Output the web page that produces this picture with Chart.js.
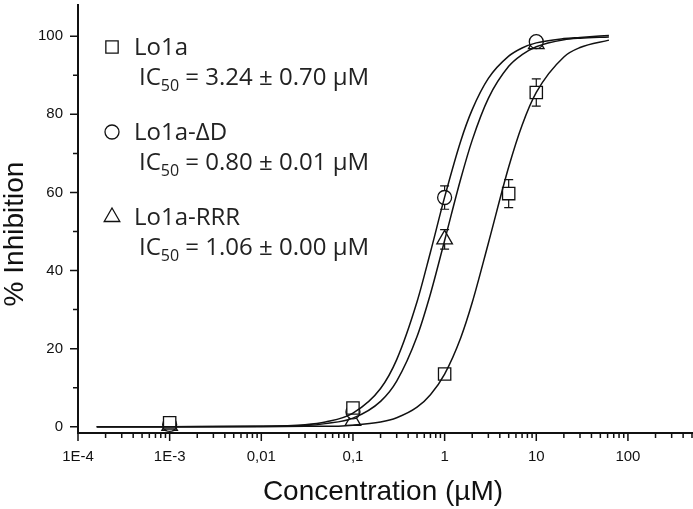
<!DOCTYPE html>
<html>
<head>
<meta charset="utf-8">
<script src="https://cdn.jsdelivr.net/npm/chart.js@4.4.0/dist/chart.umd.min.js"></script>
<style>
  html, body { margin: 0; padding: 0; background: #fff; }
  #wrap { width: 693px; height: 509px; position: relative; }
</style>
</head>
<body>
<div id="wrap"><canvas id="chart"></canvas></div>
<script>
// measured points: concentration (µM) and % inhibition
const lo1aConc = [0.001, 0.1, 1, 5, 10];
const lo1aValues = [1.0, 4.8, 13.5, 59.7, 85.6];
const lo1aErrors = [1.0, 1.0, 0.6, 3.6, 3.5];

const deltaDConc = [0.001, 0.1, 1, 10];
const deltaDValues = [0.6, 3.8, 58.7, 98.6];
const deltaDErrors = [0.8, 1.0, 3.0, 1.0];

const rrrConc = [0.001, 0.1, 1, 10];
const rrrValues = [0.2, 1.5, 48.0, 98.0];
const rrrErrors = [1.2, 1.0, 2.5, 1.0];

// fitted curves
const curveConc = [1.6e-4, 0.001, 0.01, 0.03, 0.05, 0.1, 0.2, 0.3, 0.5, 0.7, 1, 1.5, 2, 3, 5, 7, 10, 20, 30, 62];
const lo1aFit = [0, 0, 0, 0.1, 0.1, 0.4, 1.2, 2.3, 5.0, 8.2, 13.5, 22.8, 31.8, 47.0, 66.5, 77.2, 85.6, 94.7, 97.1, 99.0];
const deltaDFit = [0, 0, 0.1, 0.5, 1.2, 3.5, 9.8, 17.2, 32.0, 44.7, 58.8, 73.2, 81.2, 89.2, 94.9, 97.0, 98.3, 99.4, 99.7, 100.2];
const rrrFit = [0, 0, 0.1, 0.3, 0.8, 2.2, 6.5, 11.7, 23.1, 34.0, 47.7, 63.5, 73.4, 84.1, 92.3, 95.3, 97.3, 99.1, 99.5, 99.8];

const xTickValues = [1e-4, 1e-3, 0.01, 0.1, 1, 10, 100];
const xTickLabels = ['1E-4', '1E-3', '0,01', '0,1', '1', '10', '100'];
const yTickValues = [0, 20, 40, 60, 80, 100];

const legendNames = ['Lo1a', 'Lo1a-\u0394D', 'Lo1a-RRR'];
const legendIC50 = ['3.24 \u00b1 0.70 \u00b5M', '0.80 \u00b1 0.01 \u00b5M', '1.06 \u00b1 0.00 \u00b5M'];

const AXIS_FONT = "'Liberation Sans', Arial, sans-serif";
const LEGEND_FONT = "'Open Sans', sans-serif";
const INK = '#111';

function toPoints(xs, ys) {
    return xs.map((x, i) => ({ x: x, y: ys[i] }));
}

function isMajorX(v) {
    return xTickValues.some(t => Math.abs(Math.log10(t) - Math.log10(v)) < 1e-6);
}

// every tick on the log axis: decades plus 2..9 minors
const xAllTicks = [];
xTickValues.forEach(d => {
    for (let k = 1; k <= 9; k++) {
        if (k * d <= 500) xAllTicks.push(k * d);
    }
});
const yAllTicks = [];
for (let v = 0; v <= 100; v += 10) yAllTicks.push(v);

const curveStyle = {
    showLine: true,
    pointRadius: 0,
    borderColor: INK,
    borderWidth: 1.5,
    cubicInterpolationMode: 'monotone',
    fill: false
};
const markerStyle = {
    showLine: false,
    backgroundColor: '#fff',
    borderColor: INK,
    borderWidth: 1.3
};

const errorBars = {
    id: 'errorBars',
    beforeDatasetsDraw(chart) {
        const { ctx, scales: { x, y } } = chart;
        ctx.save();
        ctx.strokeStyle = INK;
        ctx.lineWidth = 1.2;
        chart.data.datasets.forEach(ds => {
            if (!ds.errors) return;
            ds.data.forEach((p, i) => {
                const px = x.getPixelForValue(p.x);
                const top = y.getPixelForValue(p.y + ds.errors[i]);
                const bot = y.getPixelForValue(p.y - ds.errors[i]);
                ctx.beginPath();
                ctx.moveTo(px, top); ctx.lineTo(px, bot);
                ctx.moveTo(px - 4.5, top); ctx.lineTo(px + 4.5, top);
                ctx.moveTo(px - 4.5, bot); ctx.lineTo(px + 4.5, bot);
                ctx.stroke();
            });
        });
        ctx.restore();
    }
};

const tickMarks = {
    id: 'tickMarks',
    afterDraw(chart) {
        const { ctx, scales: { x, y } } = chart;
        ctx.save();
        ctx.strokeStyle = INK;
        ctx.lineWidth = 1.5;
        ctx.beginPath();
        x.ticks.forEach(t => {
            const px = x.getPixelForValue(t.value);
            const len = isMajorX(t.value) ? 8 : 5;
            ctx.moveTo(px, x.top); ctx.lineTo(px, x.top + len);
        });
        y.ticks.forEach(t => {
            const py = y.getPixelForValue(t.value);
            const len = t.value % 20 === 0 ? 8 : 5;
            ctx.moveTo(y.right - len, py); ctx.lineTo(y.right, py);
        });
        ctx.stroke();
        ctx.restore();
    }
};

const annotations = {
    id: 'annotations',
    afterDraw(chart) {
        const ctx = chart.ctx;
        ctx.save();

        // axis titles
        ctx.fillStyle = INK;
        ctx.font = '28px ' + AXIS_FONT;
        ctx.textAlign = 'center';
        ctx.textBaseline = 'alphabetic';
        ctx.fillText('Concentration (\u00b5M)', 383, 500);
        ctx.save();
        ctx.translate(23, 234);
        ctx.rotate(-Math.PI / 2);
        ctx.fillText('% Inhibition', 0, 0);
        ctx.restore();

        // legend block
        const styles = ['rect', 'circle', 'triangle'];
        const radii = [8.7, 7, 9];
        ctx.textAlign = 'left';
        for (let i = 0; i < 3; i++) {
            const top = 55 + i * 85;
            ctx.fillStyle = '#fff';
            ctx.strokeStyle = INK;
            ctx.lineWidth = 1.3;
            Chart.helpers.drawPoint(ctx, {
                pointStyle: styles[i], radius: radii[i], borderWidth: 1.3, rotation: 0
            }, 112, top - 8);
            ctx.fillStyle = '#222';
            ctx.font = '24px ' + LEGEND_FONT;
            ctx.fillText(legendNames[i], 134, top);
            let xx = 139;
            const base = top + 30;
            ctx.fillText('IC', xx, base);
            xx += ctx.measureText('IC').width;
            ctx.font = '16px ' + LEGEND_FONT;
            ctx.fillText('50', xx, base + 6);
            xx += ctx.measureText('50').width;
            ctx.font = '24px ' + LEGEND_FONT;
            ctx.fillText(' = ' + legendIC50[i], xx, base);
        }
        ctx.restore();
    }
};

const config = {
    type: 'scatter',
    data: {
        datasets: [
            Object.assign({ label: 'Lo1a fit', data: toPoints(curveConc, lo1aFit) }, curveStyle),
            Object.assign({ label: 'Lo1a-\u0394D fit', data: toPoints(curveConc, deltaDFit) }, curveStyle),
            Object.assign({ label: 'Lo1a-RRR fit', data: toPoints(curveConc, rrrFit) }, curveStyle),
            Object.assign({ label: 'Lo1a', data: toPoints(lo1aConc, lo1aValues), errors: lo1aErrors,
                pointStyle: 'rect', pointRadius: 8.7 }, markerStyle),
            Object.assign({ label: 'Lo1a-\u0394D', data: toPoints(deltaDConc, deltaDValues), errors: deltaDErrors,
                pointStyle: 'circle', pointRadius: 7 }, markerStyle),
            Object.assign({ label: 'Lo1a-RRR', data: toPoints(rrrConc, rrrValues), errors: rrrErrors,
                pointStyle: 'triangle', pointRadius: 9 }, markerStyle)
        ]
    },
    options: {
        responsive: true,
        maintainAspectRatio: false,
        animation: false,
        layout: { autoPadding: false, padding: { top: 5, right: 1, left: 0, bottom: 0 } },
        plugins: {
            legend: { display: false },
            tooltip: { enabled: false }
        },
        scales: {
            x: {
                type: 'logarithmic',
                min: 1e-4,
                max: 500,
                grid: { display: false, drawTicks: false },
                border: { display: true, color: INK, width: 2 },
                afterBuildTicks: s => { s.ticks = xAllTicks.map(v => ({ value: v })); },
                afterFit: s => { s.height = 76; s.paddingLeft = 0; s.paddingRight = 0; },
                ticks: {
                    autoSkip: false,
                    maxRotation: 0,
                    padding: 15,
                    color: INK,
                    font: { family: AXIS_FONT, size: 15 },
                    callback: v => {
                        const i = xTickValues.findIndex(t => Math.abs(Math.log10(t) - Math.log10(v)) < 1e-6);
                        return i >= 0 ? xTickLabels[i] : '';
                    }
                }
            },
            y: {
                type: 'linear',
                min: -1.6,
                max: 108,
                grid: { display: false, drawTicks: false },
                border: { display: true, color: INK, width: 2 },
                afterBuildTicks: s => { s.ticks = yAllTicks.map(v => ({ value: v })); },
                afterFit: s => { s.width = 78; s.paddingTop = 0; s.paddingBottom = 0; },
                ticks: {
                    autoSkip: false,
                    padding: 15,
                    color: INK,
                    font: { family: AXIS_FONT, size: 15 },
                    callback: v => yTickValues.includes(v) ? String(v) : ''
                }
            }
        }
    },
    plugins: [errorBars, tickMarks, annotations]
};

window.chart = new Chart(document.getElementById('chart').getContext('2d'), config);
</script>
</body>
</html>
